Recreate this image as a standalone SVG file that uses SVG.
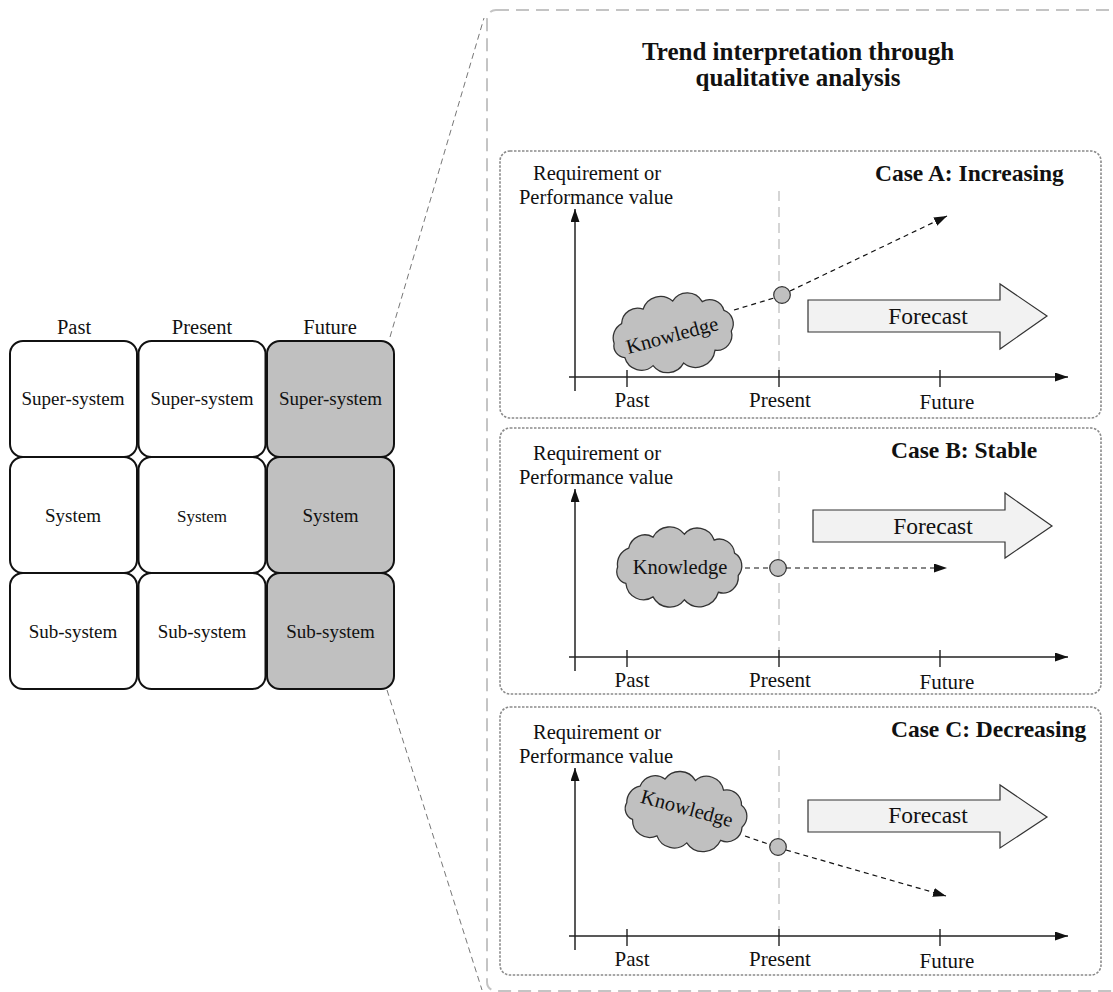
<svg xmlns="http://www.w3.org/2000/svg" xmlns:xlink="http://www.w3.org/1999/xlink" width="1113" height="992" viewBox="0 0 1113 992">
  <style>
    text { font-family: "Liberation Serif", "Times New Roman", serif; fill: #111; }
    .hdr { font-size: 20.5px; text-anchor: middle; }
    .cell { fill: #fff; stroke: #111; stroke-width: 2; }
    .cell.fut { fill: #c0c0c0; }
    .ct { font-size: 19px; text-anchor: middle; }
    .title { font-size: 25px; font-weight: bold; text-anchor: middle; }
    .case { font-size: 23.5px; font-weight: bold; }
    .panel { fill: none; stroke: #8a8a8a; stroke-width: 1.6; stroke-dasharray: 2.5 1.5; }
    .frame { fill: none; stroke: #c4c4c4; stroke-width: 2; stroke-dasharray: 13 7; }
    .zoomline { fill: none; stroke: #777; stroke-width: 1; stroke-dasharray: 6 4; }
    .axis { fill: none; stroke: #222; stroke-width: 1.5; }
    .tick { stroke: #222; stroke-width: 1.4; }
    .now { stroke: #c4c4c4; stroke-width: 1.4; stroke-dasharray: 10 6; }
    .lbl { font-size: 20.5px; text-anchor: middle; }
    .tl { font-size: 21px; text-anchor: middle; }
    .cloud { fill: #c0c0c0; stroke: #333; stroke-width: 1.1; }
    .kn { font-size: 20.5px; text-anchor: middle; }
    .dot { fill: #c0c0c0; stroke: #333; stroke-width: 1.2; }
    .trend { fill: none; stroke: #111; stroke-width: 1.2; stroke-dasharray: 5 4; }
    .fc { fill: #f2f2f2; stroke: #333; stroke-width: 1.2; }
    .fct { font-size: 23.5px; text-anchor: middle; }
  </style>
  <defs>
    <marker id="ah" markerUnits="userSpaceOnUse" markerWidth="13" markerHeight="9" refX="13" refY="4.5" orient="auto">
      <path d="M0,0 L13,4.5 L0,9 z" fill="#111"/>
    </marker>
    <path id="cloudShape" d="M-52,0 A14,14 0 0 1 -42.6,-15.5 A14,14 0 0 1 -22,-24.5 A16,16 0 0 1 4.5,-26.9 A15,15 0 0 1 29.8,-22.1 A13,13 0 0 1 47.1,-11.4 A12,12 0 0 1 50.2,7 A13,13 0 0 1 33.4,20.7 A17,17 0 0 1 4.5,26.9 A16,16 0 0 1 -22,24.5 A15,15 0 0 1 -45,13.5 A10,10 0 0 1 -52,0 Z"/>
    <!-- one chart frame: axes, ticks, present marker and time labels -->
    <g id="chartAxes">
      <line class="now" x1="779" y1="191" x2="779" y2="377"/>
      <line class="axis" x1="575" y1="391" x2="575" y2="209" marker-end="url(#ah)"/>
      <line class="axis" x1="569" y1="377" x2="1068" y2="377" marker-end="url(#ah)"/>
      <line class="tick" x1="627" y1="370" x2="627" y2="387"/>
      <line class="tick" x1="779" y1="370" x2="779" y2="387"/>
      <line class="tick" x1="940" y1="370" x2="940" y2="387"/>
      <text class="tl" x="632" y="407">Past</text>
      <text class="tl" x="780" y="407">Present</text>
      <text class="tl" x="947" y="409">Future</text>
      <text class="lbl" x="597" y="180">Requirement or</text>
      <text class="lbl" x="596" y="204">Performance value</text>
    </g>
  </defs>

  <!-- system operator grid -->
  <g id="grid-headers">
    <text class="hdr" x="74" y="334">Past</text>
    <text class="hdr" x="202" y="334">Present</text>
    <text class="hdr" x="330" y="334">Future</text>
  </g>
  <g id="past-super"><rect class="cell" x="10" y="341" width="127" height="116" rx="13"/><text class="ct" x="73" y="405">Super-system</text></g>
  <g id="present-super"><rect class="cell" x="138.5" y="341" width="127" height="116" rx="13"/><text class="ct" x="202" y="405">Super-system</text></g>
  <g id="future-super"><rect class="cell fut" x="267" y="341" width="127" height="116" rx="13"/><text class="ct" x="330.5" y="405">Super-system</text></g>
  <g id="past-system"><rect class="cell" x="10" y="457" width="127" height="116" rx="13"/><text class="ct" x="73" y="522">System</text></g>
  <g id="present-system"><rect class="cell" x="138.5" y="457" width="127" height="116" rx="13"/><text class="ct" x="202" y="522" style="font-size:17px">System</text></g>
  <g id="future-system"><rect class="cell fut" x="267" y="457" width="127" height="116" rx="13"/><text class="ct" x="330.5" y="522">System</text></g>
  <g id="past-sub"><rect class="cell" x="10" y="573" width="127" height="116" rx="13"/><text class="ct" x="73" y="638">Sub-system</text></g>
  <g id="present-sub"><rect class="cell" x="138.5" y="573" width="127" height="116" rx="13"/><text class="ct" x="202" y="638">Sub-system</text></g>
  <g id="future-sub"><rect class="cell fut" x="267" y="573" width="127" height="116" rx="13"/><text class="ct" x="330.5" y="638">Sub-system</text></g>

  <!-- enlarged view frame -->
  <g id="trend-frame">
    <rect class="frame" x="487" y="10" width="640" height="981" rx="9"/>
    <text class="title" x="798" y="60">Trend interpretation through</text>
    <text class="title" x="798" y="86">qualitative analysis</text>
  </g>

  <!-- Case A -->
  <g id="case-a">
    <rect class="panel" x="500" y="151" width="601" height="267" rx="10"/>
    <use xlink:href="#chartAxes" href="#chartAxes"/>
    <text class="case" x="875" y="181">Case A: Increasing</text>
    <g transform="translate(673,333) rotate(-10) scale(1.15,1.17)"><use class="cloud" xlink:href="#cloudShape" href="#cloudShape"/></g>
    <text class="kn" transform="translate(672,335) rotate(-15)" x="0" y="7">Knowledge</text>
    <circle class="dot" cx="782" cy="295" r="8.3"/>
    <polygon class="fc" points="808,300 1000,300 1000,284 1047,316 1000,349 1000,332 808,332"/>
    <text class="fct" x="928" y="324">Forecast</text>
  </g>

  <!-- Case B -->
  <g id="case-b">
    <rect class="panel" x="500" y="428" width="601" height="266" rx="10"/>
    <use xlink:href="#chartAxes" href="#chartAxes" transform="translate(0,280)"/>
    <text class="case" x="891" y="458">Case B: Stable</text>
    <use class="cloud" xlink:href="#cloudShape" href="#cloudShape" transform="translate(679,567) scale(1.18,1.22)"/>
    <text class="kn" x="680" y="574">Knowledge</text>
    <circle class="dot" cx="778" cy="568" r="8.3"/>
    <polygon class="fc" points="813,510 1005,510 1005,493 1052,526 1005,558 1005,542 813,542"/>
    <text class="fct" x="933" y="534">Forecast</text>
  </g>

  <!-- Case C -->
  <g id="case-c">
    <rect class="panel" x="500" y="707" width="601" height="268" rx="10"/>
    <use xlink:href="#chartAxes" href="#chartAxes" transform="translate(0,559)"/>
    <text class="case" x="891" y="737">Case C: Decreasing</text>
    <g transform="translate(686,811) rotate(8) scale(1.15,1.17)"><use class="cloud" xlink:href="#cloudShape" href="#cloudShape"/></g>
    <text class="kn" transform="translate(687,808) rotate(15)" x="0" y="7">Knowledge</text>
    <circle class="dot" cx="778" cy="847" r="8.3"/>
    <polygon class="fc" points="808,800 1000,800 1000,785 1047,817 1000,848 1000,832 808,832"/>
    <text class="fct" x="928" y="823">Forecast</text>
  </g>

  <!-- connectors: zoom lines and trend lines -->
  <g id="connectors">
    <line class="zoomline" x1="390" y1="337" x2="484" y2="18"/>
    <line class="zoomline" x1="387" y1="690" x2="482" y2="990"/>
    <line class="trend" x1="734" y1="310" x2="774" y2="298"/>
    <line class="trend" x1="790" y1="291" x2="947" y2="216" marker-end="url(#ah)"/>
    <line class="trend" x1="745" y1="568" x2="770" y2="568"/>
    <line class="trend" x1="786" y1="568" x2="947" y2="568" marker-end="url(#ah)"/>
    <line class="trend" x1="745" y1="836" x2="771" y2="845"/>
    <line class="trend" x1="786" y1="850" x2="946" y2="896" marker-end="url(#ah)"/>
  </g>
</svg>
